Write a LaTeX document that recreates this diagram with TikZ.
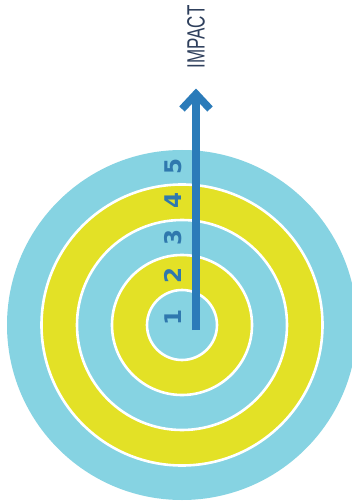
\documentclass[tikz,border=0pt]{standalone}
\usepackage{fontspec}
\setmainfont{Liberation Sans}
\newfontfamily\digitfont{DejaVu Sans}
\usetikzlibrary{calc}
\definecolor{ringblue}{HTML}{86D3E2}
\definecolor{ringyellow}{HTML}{E3E126}
\definecolor{arrowblue}{HTML}{2B7BB9}
\definecolor{numblue}{HTML}{2F78AE}
\definecolor{navy}{HTML}{2E3F5C}
\begin{document}
\begin{tikzpicture}[x=1pt,y=1pt,
  ringstyle/.style={draw=white,line width=2.6pt},
  numstyle/.style={text=numblue,font=\digitfont\bfseries\fontsize{23}{23}\selectfont,rotate=90,inner sep=0pt},
  arrowline/.style={draw=arrowblue,line width=7.5pt}]
\useasboundingbox (0,0) rectangle (352,-502);
\fill[white] (0,0) rectangle (352,-502);
\coordinate (c) at (182,-325);
\fill[ringblue] (c) circle (175);
\filldraw[fill=ringyellow,ringstyle] (c) circle (140.5);
\filldraw[fill=ringblue,ringstyle] (c) circle (105);
\filldraw[fill=ringyellow,ringstyle] (c) circle (70);
\filldraw[fill=ringblue,ringstyle] (c) circle (35);
% numbers
\node[numstyle] (n1) at (173,-317) {1};
\node[numstyle] (n2) at (173,-275) {2};
\node[numstyle] (n3) at (173,-237) {3};
\node[numstyle] (n4) at (173,-200) {4};
\node[numstyle] (n5) at (173,-166) {5};
% arrow
\coordinate (base) at (196,-330);
\coordinate (tip) at (196,-94);
\draw[arrowline] (base) -- ($(tip)+(0,-4)$);
\draw[arrowline,miter limit=10] ($(tip)+(-14,-15)$) -- (tip) -- ($(tip)+(14,-15)$);
% label
\node[rotate=90,text=navy,font=\fontsize{25}{25}\selectfont,inner sep=0pt] (impact) at (196,-37) {\scalebox{0.68}[1]{IMPACT}};
\end{tikzpicture}
\end{document}
